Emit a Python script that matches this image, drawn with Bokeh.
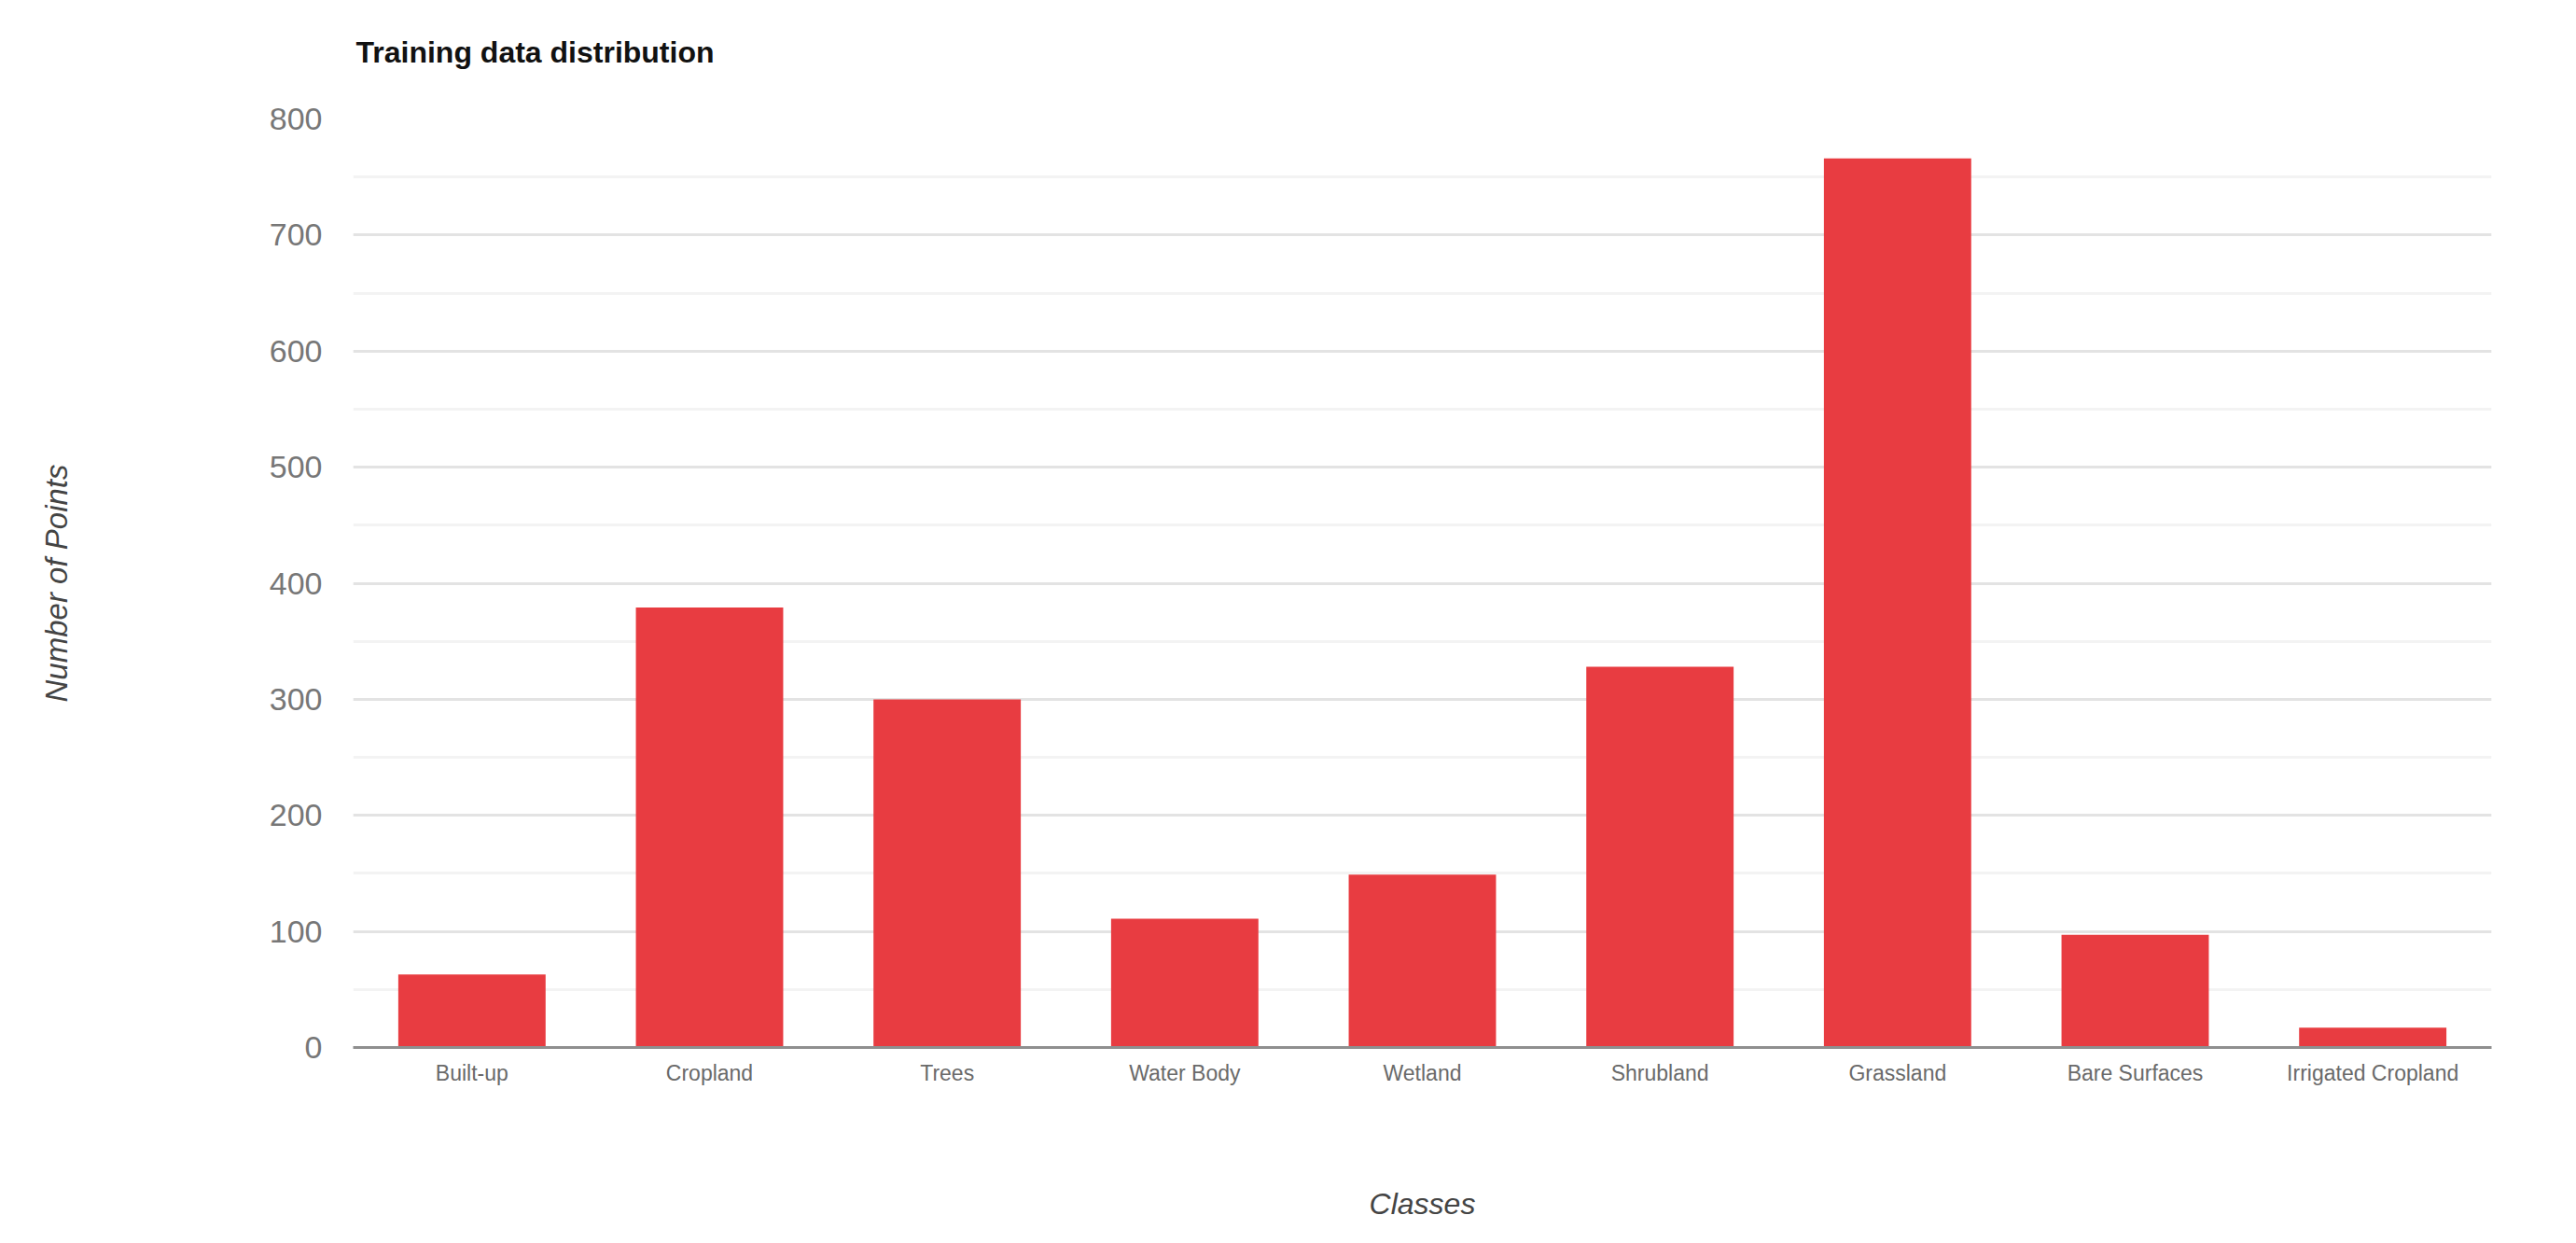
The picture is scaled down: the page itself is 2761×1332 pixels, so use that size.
from bokeh.plotting import figure
from bokeh.models import Range1d, SingleIntervalTicker, FactorRange, Title
from bokeh.embed import file_html
from bokeh.resources import INLINE

classes = ["Built-up", "Cropland", "Trees", "Water Body", "Wetland",
           "Shrubland", "Grassland", "Bare Surfaces", "Irrigated Cropland"]
points = [63, 379, 300, 111, 149, 328, 766, 97, 17]
y_ticks = [0, 100, 200, 300, 400, 500, 600, 700, 800]

FONT = "Liberation Sans"

p = figure(
    x_range=FactorRange(*classes, range_padding=0),
    y_range=Range1d(0, 800),
    width=2745, height=1316,
    output_backend="svg", toolbar_location=None,
    min_border_left=378, min_border_right=75,
    min_border_top=127, min_border_bottom=194,
    title="Training data distribution",
)

p.vbar(x=classes, top=points, width=0.62, color="#e83c41", line_color=None)

# spacer between title and plot area
p.add_layout(Title(text=" ", text_font_size="12px", standoff=38), "above")

# title
p.title.text_font = FONT
p.title.text_font_size = "32px"
p.title.text_font_style = "bold"
p.title.text_color = "#111111"
p.title.standoff = 0
p.title.offset = 3

p.outline_line_color = None
p.background_fill_color = "white"
p.border_fill_color = "white"

# y axis
p.yaxis.ticker = SingleIntervalTicker(interval=100, num_minor_ticks=2)
p.yaxis.axis_line_color = None
p.yaxis.major_tick_line_color = None
p.yaxis.minor_tick_line_color = None
p.yaxis.major_label_text_font = FONT
p.yaxis.major_label_text_font_size = "34px"
p.yaxis.major_label_text_color = "#777777"
p.yaxis.major_label_standoff = 27
p.yaxis.axis_label = "Number of Points"
p.yaxis.axis_label_text_font = FONT
p.yaxis.axis_label_text_font_size = "33px"
p.yaxis.axis_label_text_font_style = "italic"
p.yaxis.axis_label_text_color = "#444444"
p.yaxis.axis_label_standoff = 207

p.ygrid.grid_line_color = "#e3e3e3"
p.ygrid.grid_line_width = 3
p.ygrid.minor_grid_line_color = "#f3f3f3"
p.ygrid.minor_grid_line_width = 3
p.xgrid.grid_line_color = None

# x axis
p.xaxis.axis_line_color = "#8f8f8f"
p.xaxis.axis_line_width = 3
p.xaxis.major_tick_line_color = None
p.xaxis.minor_tick_line_color = None
p.xaxis.major_label_text_font = FONT
p.xaxis.major_label_text_font_size = "23px"
p.xaxis.major_label_text_color = "#6a6a6a"
p.xaxis.major_label_standoff = 8
p.xaxis.axis_label = "Classes"
p.xaxis.axis_label_text_font = FONT
p.xaxis.axis_label_text_font_size = "32px"
p.xaxis.axis_label_text_font_style = "italic"
p.xaxis.axis_label_text_color = "#444444"
p.xaxis.axis_label_standoff = 106

open("out.html", "w").write(file_html(p, INLINE))
